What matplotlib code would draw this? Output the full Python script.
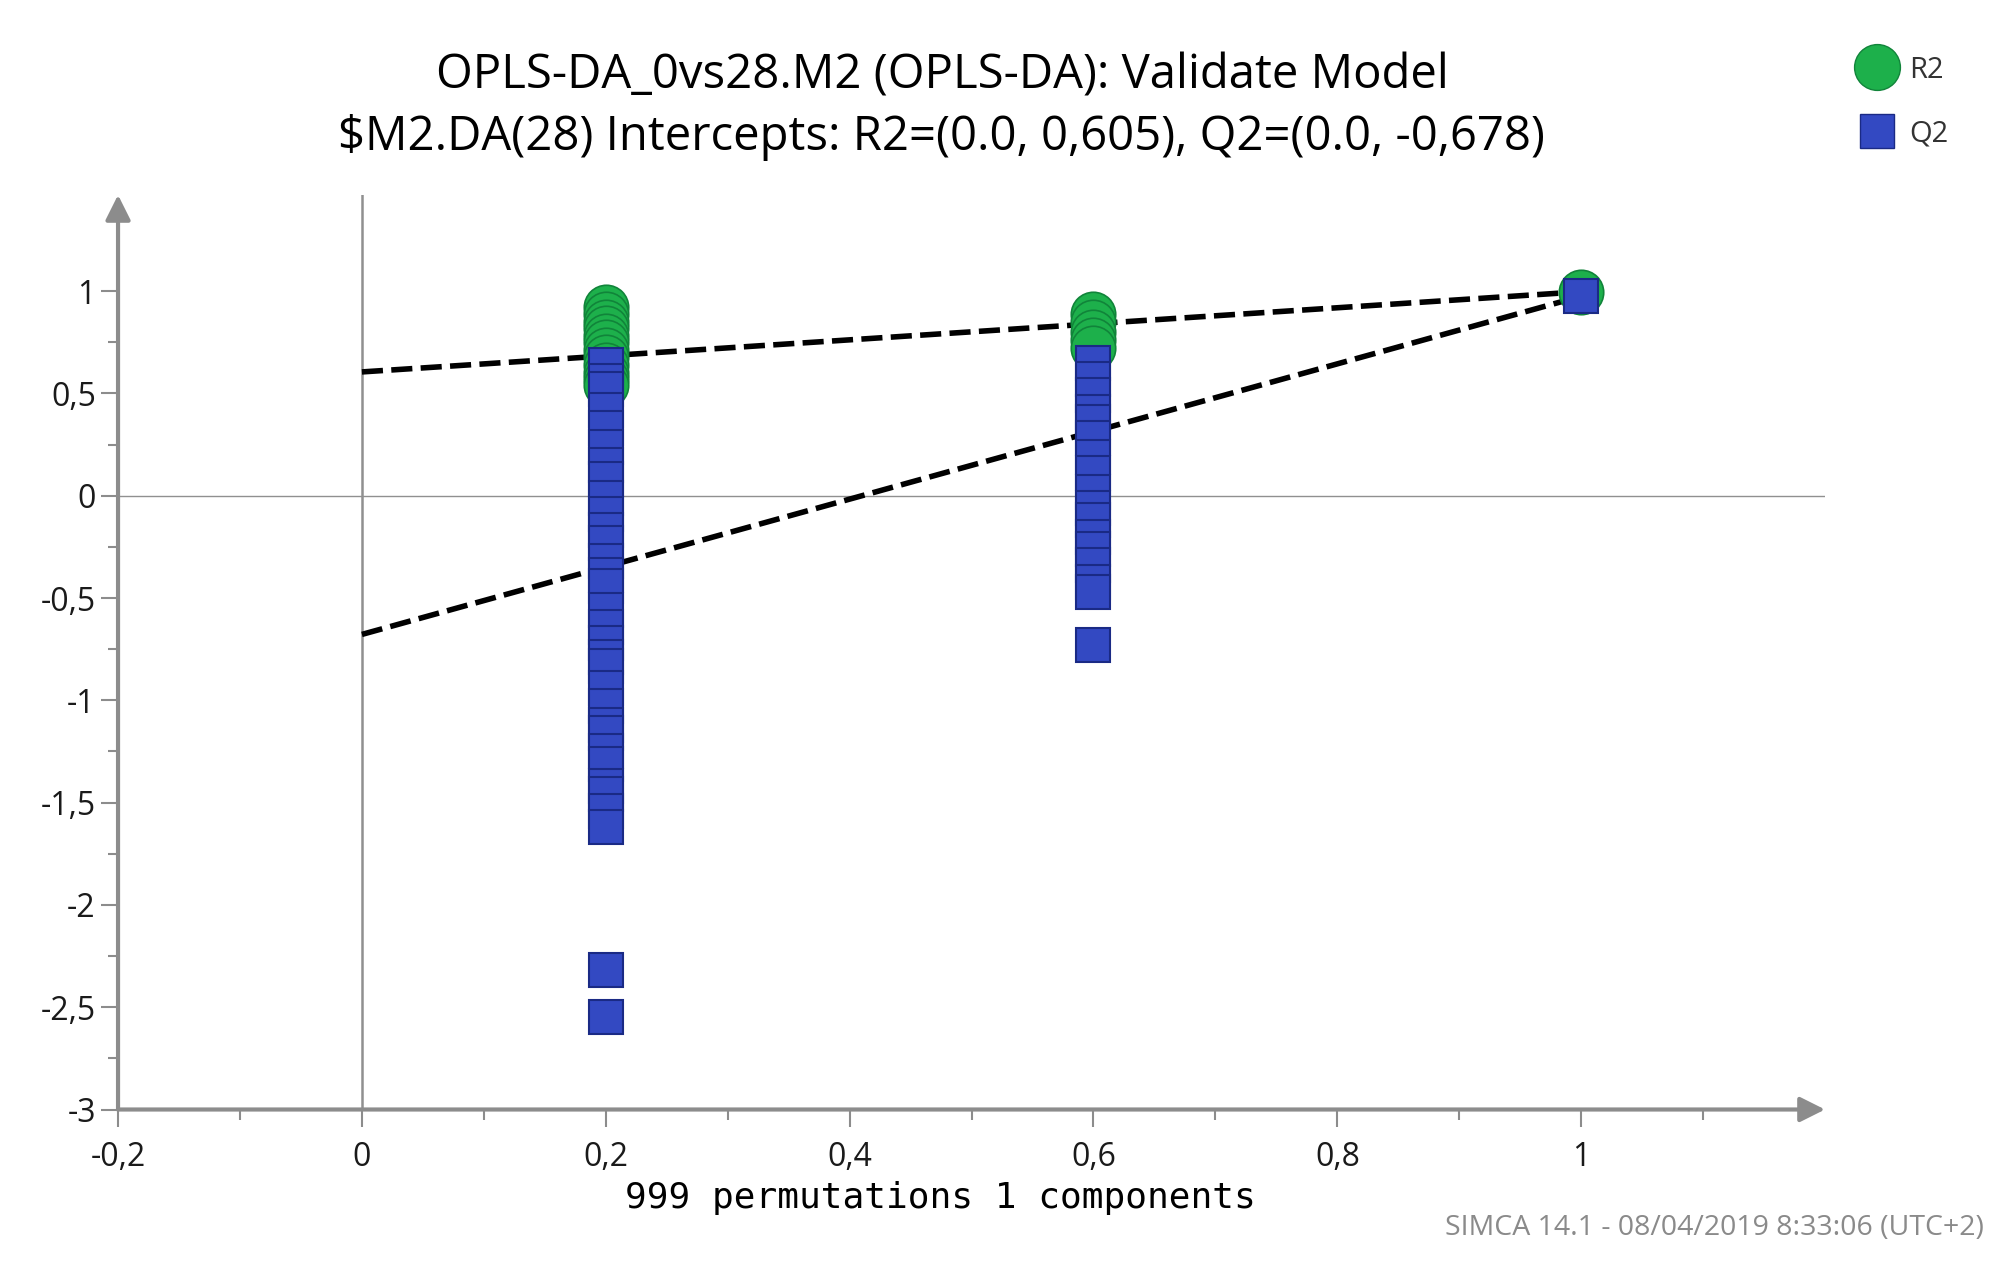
import numpy as np
import matplotlib.pyplot as plt
from matplotlib.lines import Line2D
from matplotlib.ticker import FixedLocator, FixedFormatter

plt.rcParams['font.family'] = ['Open Sans', 'DejaVu Sans']

# permuted models at correlation 0.2
corr_a = 0.2
r2_a = [0.92, 0.89, 0.85, 0.82, 0.78, 0.75, 0.71, 0.68, 0.64, 0.60, 0.57, 0.54]
q2_a = [0.64, 0.56, 0.52, 0.42, 0.33, 0.24, 0.15, 0.08, -0.01, -0.09, -0.17,
        -0.23, -0.32, -0.39, -0.44, -0.56, -0.64, -0.72, -0.79, -0.83, -0.94,
        -1.03, -1.12, -1.16, -1.25, -1.31, -1.42, -1.46, -1.54, -1.62,
        -2.32, -2.55]

# permuted models at correlation 0.6
corr_b = 0.6
r2_b = [0.89, 0.85, 0.80, 0.76, 0.72]
q2_b = [0.65, 0.57, 0.49, 0.41, 0.36, 0.28, 0.19, 0.11, 0.02, -0.06, -0.12,
        -0.20, -0.26, -0.34, -0.42, -0.47, -0.73]

# original model
corr_orig = 1.0
r2_orig = 0.997
q2_orig = 0.975

# intercepts from the title
r2_icpt = 0.605
q2_icpt = -0.678

xticks = [-0.2, 0, 0.2, 0.4, 0.6, 0.8, 1]
xtick_labels = ['-0,2', '0', '0,2', '0,4', '0,6', '0,8', '1']
xminor = [-0.1, 0.1, 0.3, 0.5, 0.7, 0.9, 1.1]
yticks = [-3, -2.5, -2, -1.5, -1, -0.5, 0, 0.5, 1]
ytick_labels = ['-3', '-2,5', '-2', '-1,5', '-1', '-0,5', '0', '0,5', '1']
yminor = [-2.75, -2.25, -1.75, -1.25, -0.75, -0.25, 0.25, 0.75]

green = '#1db04b'
green_edge = '#11843a'
blue = '#3349c2'
blue_edge = '#1a2a85'
axis_gray = '#8c8c8c'

fig = plt.figure(figsize=(20.04, 12.8), dpi=100)
ax = fig.add_axes([0.0589, 0.1332, 0.8518, 0.7145])
ax.set_xlim(-0.2, 1.2)
ax.set_ylim(-3, 1.47)

for s in ax.spines.values():
    s.set_visible(False)

# zero lines
ax.axvline(0, color='#909090', lw=1.8, zorder=1)
ax.axhline(0, color='#909090', lw=1.0, zorder=1)

# axes with arrows
ax.annotate('', xy=(1, 0), xytext=(0, 0), xycoords='axes fraction',
            arrowprops=dict(arrowstyle='-|>', color=axis_gray, lw=3,
                            mutation_scale=38, shrinkA=0, shrinkB=0))
ax.annotate('', xy=(0, 1), xytext=(0, 0), xycoords='axes fraction',
            arrowprops=dict(arrowstyle='-|>', color=axis_gray, lw=3,
                            mutation_scale=38, shrinkA=0, shrinkB=0))

# regression lines
ax.plot([0, corr_orig], [r2_icpt, r2_orig], color='black', lw=4,
        dashes=(3.8, 1.5), zorder=2)
ax.plot([0, corr_orig], [q2_icpt, q2_orig], color='black', lw=4,
        dashes=(3.8, 1.5), zorder=2)

# R2 points
for x, vals in [(corr_a, r2_a), (corr_b, r2_b), (corr_orig, [r2_orig])]:
    ax.plot([x] * len(vals), vals, 'o', ms=32, mfc=green, mec=green_edge,
            mew=1.2, zorder=3)
# Q2 points, drawn one at a time so the edges show
for x, vals in [(corr_a, q2_a), (corr_b, q2_b), (corr_orig, [q2_orig])]:
    for v in vals:
        ax.plot(x, v, 's', ms=25, mfc=blue, mec=blue_edge, mew=1.5, zorder=4)

ax.xaxis.set_major_locator(FixedLocator(xticks))
ax.xaxis.set_major_formatter(FixedFormatter(xtick_labels))
ax.xaxis.set_minor_locator(FixedLocator(xminor))
ax.yaxis.set_major_locator(FixedLocator(yticks))
ax.yaxis.set_major_formatter(FixedFormatter(ytick_labels))
ax.yaxis.set_minor_locator(FixedLocator(yminor))
ax.tick_params(which='major', length=12, width=1.5, color=axis_gray,
               labelsize=23, labelcolor='#1a1a1a')
ax.tick_params(which='minor', length=7, width=1.5, color=axis_gray)
ax.tick_params(axis='x', which='major', pad=11)
ax.tick_params(axis='y', which='major', pad=4)

ax.set_xlabel('999 permutations 1 components', family='DejaVu Sans Mono',
              fontsize=26, labelpad=0)
ax.xaxis.set_label_coords(0.4816, -0.078)

fig.text(0.470, 0.941, 'OPLS-DA_0vs28.M2 (OPLS-DA): Validate Model',
         ha='center', va='center', fontsize=34)
fig.text(0.470, 0.893,
         '\\$M2.DA(28) Intercepts: R2=(0.0, 0,605), Q2=(0.0, -0,678)',
         ha='center', va='center', fontsize=34)
fig.text(0.99, 0.041, 'SIMCA 14.1 - 08/04/2019 8:33:06 (UTC+2)',
         ha='right', va='center', fontsize=20.5, color='#8a8a8a')

handles = [Line2D([], [], marker='o', ls='', ms=33, mfc=green, mec=green_edge,
                  label='R2'),
           Line2D([], [], marker='s', ls='', ms=24, mfc=blue, mec=blue_edge,
                  label='Q2')]
fig.legend(handles=handles, loc='upper left', bbox_to_anchor=(0.922, 0.968),
           frameon=False, fontsize=21, handlelength=1.0, handletextpad=0.6,
           labelspacing=1.2, borderpad=0, labelcolor='#333333')

fig.savefig('out.png', dpi=100)
